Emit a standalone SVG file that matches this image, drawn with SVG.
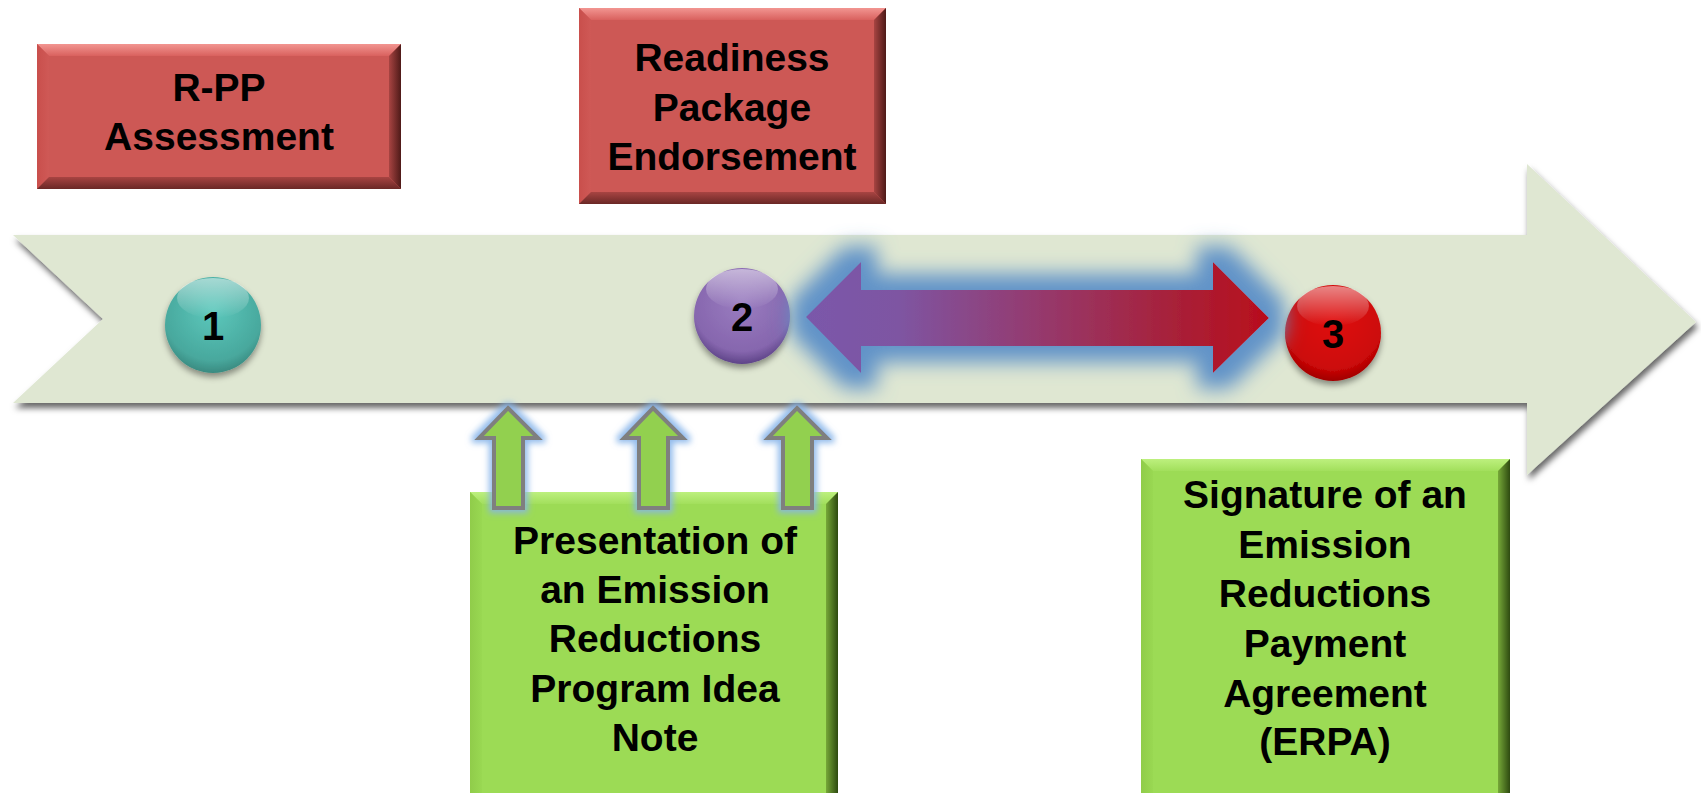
<svg xmlns="http://www.w3.org/2000/svg" width="1701" height="793" viewBox="0 0 1701 793">
<defs>
<style>
.lbl{font-family:"Liberation Sans",Arial,sans-serif;font-weight:bold;font-size:39px;fill:#000;text-anchor:middle}
.num{font-family:"Liberation Sans",Arial,sans-serif;font-weight:bold;font-size:40px;fill:#000;text-anchor:middle}
.up{fill:#92D050;stroke:#7F7F7F;stroke-width:4;stroke-linejoin:miter}
</style>
<filter id="shadow" x="-5%" y="-10%" width="110%" height="130%">
<feDropShadow dx="2" dy="5" stdDeviation="3" flood-color="#000" flood-opacity="0.6"/>
</filter>
<filter id="cshadow" x="-30%" y="-30%" width="160%" height="170%">
<feDropShadow dx="0" dy="4" stdDeviation="3" flood-color="#000" flood-opacity="0.4"/>
</filter>
<filter id="glow" filterUnits="userSpaceOnUse" x="760" y="215" width="560" height="205">
<feMorphology in="SourceAlpha" operator="dilate" radius="16" result="d"/>
<feGaussianBlur in="d" stdDeviation="10" result="b"/>
<feFlood flood-color="#6193C8" flood-opacity="1"/>
<feComposite in2="b" operator="in" result="g"/>
<feMerge><feMergeNode in="g"/><feMergeNode in="SourceGraphic"/></feMerge>
</filter>
<filter id="glow2" x="-60%" y="-30%" width="220%" height="160%">
<feMorphology in="SourceAlpha" operator="dilate" radius="3" result="d"/>
<feGaussianBlur in="d" stdDeviation="3" result="b"/>
<feFlood flood-color="#86B4EA" flood-opacity="0.9"/>
<feComposite in2="b" operator="in" result="g"/>
<feMerge><feMergeNode in="g"/><feMergeNode in="SourceGraphic"/></feMerge>
</filter>
<linearGradient id="dbl" gradientUnits="userSpaceOnUse" x1="806" y1="0" x2="1269" y2="0">
<stop offset="0" stop-color="#7A58AA"/>
<stop offset="0.2" stop-color="#7E55A2"/>
<stop offset="0.5" stop-color="#953A6E"/>
<stop offset="0.8" stop-color="#A82038"/>
<stop offset="1" stop-color="#B80E1C"/>
</linearGradient>
<radialGradient id="c1" cx="0.5" cy="0.35" r="0.65">
<stop offset="0" stop-color="#5CC8BC"/>
<stop offset="0.8" stop-color="#48A89D"/>
<stop offset="1" stop-color="#3A8A80"/>
</radialGradient>
<radialGradient id="c2" cx="0.5" cy="0.35" r="0.65">
<stop offset="0" stop-color="#9A7DC0"/>
<stop offset="0.8" stop-color="#8666AE"/>
<stop offset="1" stop-color="#5E4488"/>
</radialGradient>
<radialGradient id="c3" cx="0.5" cy="0.35" r="0.65">
<stop offset="0" stop-color="#E01010"/>
<stop offset="0.8" stop-color="#CC0808"/>
<stop offset="1" stop-color="#A00000"/>
</radialGradient>
<linearGradient id="hl" x1="0" y1="0" x2="0" y2="1">
<stop offset="0" stop-color="#fff" stop-opacity="0.5"/>
<stop offset="1" stop-color="#fff" stop-opacity="0"/>
</linearGradient>
<linearGradient id="rTop" x1="0" y1="0" x2="0" y2="1">
<stop offset="0" stop-color="#F29591"/><stop offset="1" stop-color="#D9615E"/>
</linearGradient>
<linearGradient id="rBot" x1="0" y1="0" x2="0" y2="1">
<stop offset="0" stop-color="#A84442"/><stop offset="1" stop-color="#6A2826"/>
</linearGradient>
<linearGradient id="rRight" x1="0" y1="0" x2="1" y2="0">
<stop offset="0" stop-color="#A84442"/><stop offset="1" stop-color="#4E1A18"/>
</linearGradient>
<linearGradient id="rLeft" x1="0" y1="0" x2="1" y2="0">
<stop offset="0" stop-color="#C94F4C"/><stop offset="1" stop-color="#CF5956"/>
</linearGradient>
<linearGradient id="gTop" x1="0" y1="0" x2="0" y2="1">
<stop offset="0" stop-color="#BDF07E"/><stop offset="1" stop-color="#A2DF5C"/>
</linearGradient>
<linearGradient id="gRight" x1="0" y1="0" x2="1" y2="0">
<stop offset="0" stop-color="#76A838"/><stop offset="1" stop-color="#2E4A10"/>
</linearGradient>
<linearGradient id="gLeft" x1="0" y1="0" x2="1" y2="0">
<stop offset="0" stop-color="#90CC4A"/><stop offset="1" stop-color="#99D852"/>
</linearGradient>
</defs>

<g id="timeline">
<path d="M13,235 L1527,235 L1527,164 L1696,322 L1527,475 L1527,403 L13,403 L103,319 Z" fill="#DFE7D2" filter="url(#shadow)"/>
</g>

<g id="milestone-1">
<circle cx="213" cy="325" r="48" fill="url(#c1)" filter="url(#cshadow)"/>
<ellipse cx="213" cy="298" rx="36" ry="20" fill="url(#hl)"/>
<text class="num" x="213" y="340">1</text>
</g>
<g id="milestone-2">
<circle cx="742" cy="316" r="48" fill="url(#c2)" filter="url(#cshadow)"/>
<ellipse cx="742" cy="289" rx="36" ry="20" fill="url(#hl)"/>
<text class="num" x="742" y="331">2</text>
</g>
<g id="milestone-3">
<circle cx="1333" cy="333" r="48" fill="url(#c3)" filter="url(#cshadow)"/>
<ellipse cx="1333" cy="306" rx="36" ry="20" fill="url(#hl)"/>
<text class="num" x="1333" y="348">3</text>
</g>

<g id="rpp-assessment">
<rect x="37" y="44" width="364" height="145" fill="#CD5855"/>
<polygon points="37,44 401,44 389,56 49,56" fill="url(#rTop)"/>
<polygon points="37,44 49,56 49,177 37,189" fill="url(#rLeft)"/>
<polygon points="401,44 401,189 389,177 389,56" fill="url(#rRight)"/>
<polygon points="37,189 401,189 389,177 49,177" fill="url(#rBot)"/>
<text class="lbl" x="219" y="101">R-PP</text>
<text class="lbl" x="219" y="150">Assessment</text>
</g>

<g id="readiness-package">
<rect x="579" y="8" width="307" height="196" fill="#CD5855"/>
<polygon points="579,8 886,8 874,20 591,20" fill="url(#rTop)"/>
<polygon points="579,8 591,20 591,192 579,204" fill="url(#rLeft)"/>
<polygon points="886,8 886,204 874,192 874,20" fill="url(#rRight)"/>
<polygon points="579,204 886,204 874,192 591,192" fill="url(#rBot)"/>
<text class="lbl" x="732" y="71">Readiness</text>
<text class="lbl" x="732" y="121">Package</text>
<text class="lbl" x="732" y="170">Endorsement</text>
</g>

<g id="er-pin">
<rect x="470" y="492" width="368" height="310" fill="#9CDB55"/>
<polygon points="470,492 838,492 826,504 482,504" fill="url(#gTop)"/>
<polygon points="470,492 482,504 482,802 470,802" fill="url(#gLeft)"/>
<polygon points="838,492 838,802 826,802 826,504" fill="url(#gRight)"/>
<text class="lbl" x="655" y="554">Presentation of</text>
<text class="lbl" x="655" y="603">an Emission</text>
<text class="lbl" x="655" y="652">Reductions</text>
<text class="lbl" x="655" y="702">Program Idea</text>
<text class="lbl" x="655" y="751">Note</text>
</g>

<g id="erpa">
<rect x="1141" y="459" width="369" height="340" fill="#9CDB55"/>
<polygon points="1141,459 1510,459 1498,471 1153,471" fill="url(#gTop)"/>
<polygon points="1141,459 1153,471 1153,799 1141,799" fill="url(#gLeft)"/>
<polygon points="1510,459 1510,799 1498,799 1498,471" fill="url(#gRight)"/>
<text class="lbl" x="1325" y="508">Signature of an</text>
<text class="lbl" x="1325" y="558">Emission</text>
<text class="lbl" x="1325" y="607">Reductions</text>
<text class="lbl" x="1325" y="657">Payment</text>
<text class="lbl" x="1325" y="707">Agreement</text>
<text class="lbl" x="1325" y="755">(ERPA)</text>
</g>

<g id="connectors">
<path d="M806,317 L861,262 L861,290 L1213,290 L1213,262 L1269,318 L1213,373 L1213,346 L861,346 L861,373 Z" fill="url(#dbl)" filter="url(#glow)"/>
<g filter="url(#glow2)">
<path class="up" d="M508,408 L538,438 L523,438 L523,508 L494,508 L494,438 L479,438 Z"/>
<path class="up" d="M653,408 L683,438 L668,438 L668,508 L639,508 L639,438 L624,438 Z"/>
<path class="up" d="M797,408 L827,438 L812,438 L812,508 L783,508 L783,438 L768,438 Z"/>
</g>
</g>
</svg>
